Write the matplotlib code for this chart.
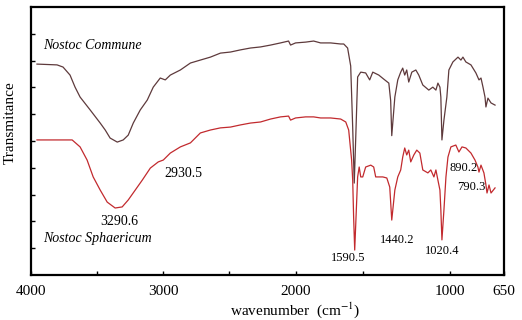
import numpy as np
import matplotlib
matplotlib.use("Agg")
import matplotlib.pyplot as plt

plt.rcParams['font.family'] = ['Liberation Serif', 'DejaVu Serif']
plt.rcParams['mathtext.fontset'] = 'stix'

# Nostoc Commune (upper trace)
wn_commune = [3955, 3803, 3758, 3705, 3667, 3629, 3553, 3477, 3439, 3402, 3348, 3303, 3265,
              3227, 3174, 3121, 3076, 3023, 2985, 2947, 2871, 2795, 2720, 2644, 2568, 2492,
              2417, 2341, 2265, 2189, 2114, 2053, 2038, 2000, 1935, 1883, 1838, 1773, 1708,
              1688, 1663, 1643, 1630, 1620, 1611, 1598, 1578, 1546, 1520, 1500, 1461, 1429,
              1396, 1384, 1377, 1357, 1338, 1319, 1306, 1293, 1280, 1267, 1247, 1221, 1202,
              1176, 1137, 1111, 1091, 1078, 1065, 1059, 1052, 1039, 1020, 1007, 981, 948,
              929, 916, 897, 864, 832, 812, 799, 786, 773, 767, 754, 734, 708]
t_commune = [7.87, 7.84, 7.76, 7.46, 7.01, 6.64, 6.16, 5.67, 5.41, 5.11, 4.96, 5.04, 5.22,
             5.67, 6.16, 6.53, 7.01, 7.35, 7.28, 7.46, 7.65, 7.91, 8.02, 8.13, 8.28, 8.32,
             8.40, 8.47, 8.51, 8.58, 8.66, 8.73, 8.58, 8.66, 8.69, 8.73, 8.66, 8.66, 8.62,
             8.62, 8.47, 7.80, 5.50, 3.43, 5.00, 7.39, 7.57, 7.54, 7.28, 7.57, 7.46, 7.31,
             7.16, 6.50, 5.20, 6.64, 7.28, 7.57, 7.72, 7.46, 7.65, 7.20, 7.57, 7.65, 7.46,
             7.09, 6.90, 7.01, 6.90, 7.16, 7.01, 6.64, 5.04, 5.78, 6.64, 7.65, 7.95, 8.13,
             8.02, 8.13, 7.95, 7.84, 7.54, 7.28, 7.35, 7.01, 6.64, 6.27, 6.60, 6.42, 6.34]

# Nostoc Sphaericum (lower trace)
wn_sphaericum = [3955, 3856, 3689, 3629, 3576, 3530, 3477, 3424, 3364, 3311, 3265, 3212, 3159,
                 3098, 3038, 3000, 2947, 2871, 2795, 2720, 2644, 2568, 2492, 2417, 2341, 2265,
                 2189, 2114, 2053, 2038, 2000, 1935, 1883, 1838, 1773, 1708, 1675, 1656, 1637,
                 1630, 1624, 1617, 1604, 1598, 1588, 1578, 1565, 1546, 1513, 1494, 1481, 1461,
                 1435, 1409, 1390, 1377, 1357, 1338, 1319, 1306, 1293, 1280, 1267, 1254, 1234,
                 1215, 1195, 1176, 1143, 1124, 1104, 1091, 1078, 1065, 1059, 1052, 1039, 1026,
                 1013, 994, 962, 942, 922, 897, 864, 838, 819, 812, 799, 780, 767, 760, 747,
                 734, 708]
t_sphaericum = [5.04, 5.04, 5.04, 4.78, 4.29, 3.66, 3.17, 2.72, 2.50, 2.54, 2.80, 3.17, 3.54,
                3.99, 4.22, 4.29, 4.55, 4.78, 4.93, 5.30, 5.41, 5.49, 5.52, 5.60, 5.67, 5.71,
                5.82, 5.90, 5.93, 5.78, 5.86, 5.90, 5.90, 5.86, 5.86, 5.82, 5.71, 5.41, 4.29,
                3.54, 2.16, 0.93, 2.80, 3.66, 4.03, 3.66, 3.66, 4.03, 4.10, 4.03, 3.66, 3.66,
                3.66, 3.62, 3.28, 2.05, 3.17, 3.66, 3.92, 4.40, 4.74, 4.48, 4.66, 4.22, 4.48,
                4.66, 4.55, 3.92, 3.81, 3.92, 3.66, 3.92, 3.54, 3.17, 2.43, 1.31, 2.43, 3.66,
                4.40, 4.78, 4.85, 4.59, 4.78, 4.74, 4.55, 4.29, 4.03, 3.84, 4.10, 3.81, 3.36,
                3.06, 3.36, 3.06, 3.25]

peak_labels = ["3290.6", "2930.5", "1590.5", "1440.2", "1020.4", "890.2", "790.3"]
peak_wn = [3333, 2848, 1659, 1345, 1052, 910, 864]
peak_t = [2.0, 3.8, 0.63, 1.3, 0.9, 4.0, 3.28]

major_ticks = [4000, 3000, 2000, 1000, 650]
minor_ticks = [3500, 2500, 1565]

# the 2000-650 part of the axis is stretched
k = 1.167
def forward(w):
    w = np.asarray(w, dtype=float)
    return np.where(w >= 2000, w, 2000 - (2000 - w) * k)

def inverse(t):
    t = np.asarray(t, dtype=float)
    return np.where(t >= 2000, t, 2000 - (2000 - t) / k)

fig = plt.figure(figsize=(5.22, 3.2), dpi=100)
ax = fig.add_axes([0.0594, 0.1406, 0.9061, 0.8375])
ax.set_xscale('function', functions=(forward, inverse))

ax.plot(wn_commune, t_commune, color='#5e3a3c', lw=0.9)
ax.plot(wn_sphaericum, t_sphaericum, color='#c22a2e', lw=0.9)

ax.set_xlim(4000, 650)
ax.set_ylim(0, 10)

ax.set_xticks(major_ticks)
ax.set_xticklabels([str(v) for v in major_ticks])
ax.set_xticks(minor_ticks, minor=True)
ax.set_yticks(range(1, 10))
ax.set_yticklabels([])
ax.tick_params(axis='both', which='both', direction='in', length=3, width=1,
               labelsize=11, pad=7)

for s in ax.spines.values():
    s.set_linewidth(1.6)

ax.text(3910, 8.55, "Nostoc Commune", style='italic', fontsize=10, va='center')
ax.text(3910, 1.35, "Nostoc Sphaericum", style='italic', fontsize=10, va='center')

for lab, w, t in zip(peak_labels, peak_wn, peak_t):
    fs = 10 if lab in ("3290.6", "2930.5") else 9
    ax.text(w, t, lab, fontsize=fs, ha='center', va='center')

ax.set_xlabel("wavenumber  (cm$^{-1}$)", fontsize=11)
ax.xaxis.set_label_coords(0.558, -0.095)
ax.set_ylabel("Transmitance", fontsize=11)
ax.yaxis.set_label_coords(-0.03, 0.57)

fig.savefig("out.png", dpi=100)
